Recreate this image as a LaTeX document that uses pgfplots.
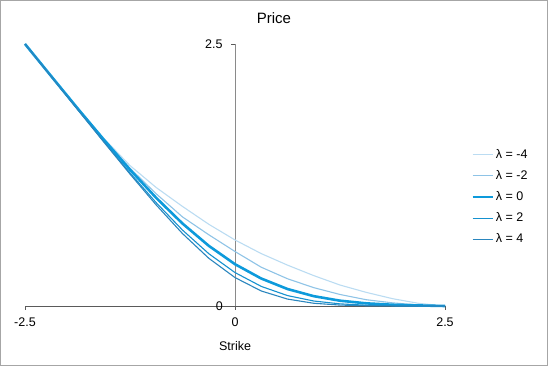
\documentclass[border=0pt]{standalone}
\usepackage{pgfplots}
\pgfplotsset{compat=1.18}
\usepackage{fontspec}
\setmainfont{Liberation Sans}
\definecolor{lamA}{HTML}{BBDCF2}
\definecolor{lamB}{HTML}{8EC3E6}
\definecolor{lamC}{HTML}{0D9ADB}
\definecolor{lamD}{HTML}{1591CF}
\definecolor{lamE}{HTML}{2A86BE}
\definecolor{axgray}{HTML}{5A5A5A}
\definecolor{ygray}{HTML}{8A8A8A}
\begin{document}
\begin{tikzpicture}
\useasboundingbox (-25pt,-60pt) rectangle (523pt,306pt);
\draw[gray!70,line width=1pt] (-24.5pt,-59.5pt) rectangle (522.5pt,305.5pt);
\begin{axis}[at={(0pt,0pt)},anchor=south west,
  width=420pt,height=262pt,scale only axis,clip=false,
  xmin=-2.5,xmax=2.5,ymin=0,ymax=2.5,
  axis x line=bottom,axis y line=middle,
  x axis line style={-,draw=axgray,line width=0.8pt},
  y axis line style={-,draw=ygray,line width=0.8pt},
  xtick={-2.5,0,2.5},xticklabels={-2.5,0,2.5},
  ytick={0,2.5},yticklabels={0,2.5},
  tick align=outside,major tick length=4pt,
  tick style={draw=axgray,line width=0.7pt},
  ticklabel style={font=\fontsize{12.5}{15}\selectfont},
  xticklabel style={yshift=-4pt},
  yticklabel style={xshift=-5pt},
  legend style={at={(1.055,0.416)},anchor=west,draw=none,fill=none,
    font=\fontsize{12.5}{15}\selectfont,row sep=6.5pt,cells={anchor=west}},
  legend image code/.code={\draw[#1] (0pt,0pt) -- (20pt,0pt);}]
\addplot[draw=lamA,line width=1.1pt] coordinates {(-2.5,2.5) (-2.1875,2.194) (-1.875,1.89) (-1.5625,1.60) (-1.25,1.34) (-0.9375,1.13) (-0.625,0.95) (-0.3125,0.78) (0,0.63) (0.3125,0.50) (0.625,0.39) (0.9375,0.29) (1.25,0.20) (1.5625,0.13) (1.875,0.07) (2.1875,0.025) (2.5,0)};
\addlegendentry{λ = -4}
\addplot[draw=lamB,line width=1.1pt] coordinates {(-2.5,2.5) (-2.1875,2.193) (-1.875,1.888) (-1.5625,1.592) (-1.25,1.315) (-0.9375,1.07) (-0.625,0.85) (-0.3125,0.68) (0,0.52) (0.3125,0.37) (0.625,0.26) (0.9375,0.175) (1.25,0.11) (1.5625,0.06) (1.875,0.03) (2.1875,0.01) (2.5,0)};
\addlegendentry{λ = -2}
\addplot[draw=lamC,line width=2.6pt] coordinates {(-2.5,2.5) (-2.1875,2.1926) (-1.875,1.8868) (-1.5625,1.5879) (-1.25,1.3006) (-0.9375,1.0313) (-0.625,0.7870) (-0.3125,0.5745) (0,0.3989) (0.3125,0.2620) (0.625,0.1620) (0.9375,0.0938) (1.25,0.0506) (1.5625,0.0254) (1.875,0.0118) (2.1875,0.0051) (2.5,0)};
\addlegendentry{λ = 0}
\addplot[draw=lamD,line width=1.1pt] coordinates {(-2.5,2.5) (-2.1875,2.188) (-1.875,1.8778) (-1.5625,1.5701) (-1.25,1.2703) (-0.9375,0.9851) (-0.625,0.7244) (-0.3125,0.4994) (0,0.3191) (0.3125,0.1870) (0.625,0.0994) (0.9375,0.0476) (1.25,0.0203) (1.5625,0.0077) (1.875,0.0026) (2.1875,0.0008) (2.5,0)};
\addlegendentry{λ = 2}
\addplot[draw=lamE,line width=1.1pt] coordinates {(-2.5,2.5) (-2.1875,2.1876) (-1.875,1.8756) (-1.5625,1.5652) (-1.25,1.2587) (-0.9375,0.9636) (-0.625,0.6910) (-0.3125,0.4557) (0,0.2713) (0.3125,0.1432) (0.625,0.0660) (0.9375,0.0261) (1.25,0.0088) (1.5625,0.0025) (1.875,0.0005) (2.1875,0.0001) (2.5,0)};
\addlegendentry{λ = 4}
\node[anchor=east,font=\fontsize{12.5}{15}\selectfont,inner sep=0pt] at (axis cs:0,0) [xshift=-12pt] {0};
\end{axis}
\node[font=\fontsize{15}{18}\selectfont] at (249pt,288pt) {Price};
\node[font=\fontsize{12.5}{15}\selectfont] at (210pt,-40pt) {Strike};
\end{tikzpicture}
\end{document}
